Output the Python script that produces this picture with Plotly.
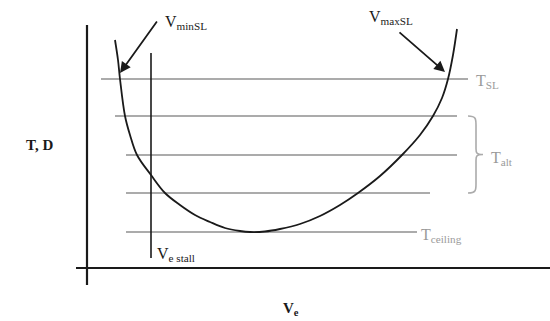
import plotly.graph_objects as go

# Drag curve D(V) (velocity units, thrust units)
curve_v = [2.8, 3.1, 3.3, 3.8, 4.3, 5.0, 6.4, 7.8, 9.3, 10.8, 12.3, 13.8, 15.3,
           16.3, 17.8, 19.3, 21.3, 23.3, 25.3, 27.1, 29.3, 31.5, 33.3, 34.6,
           35.5, 36.1, 36.6, 37.0]
curve_d = [22.8, 20.8, 18.9, 15.2, 13.3, 11.3, 9.3, 7.5, 6.3, 5.3, 4.6, 4.0, 3.7,
           3.6, 3.65, 3.9, 4.4, 5.2, 6.3, 7.5, 9.2, 11.3, 13.3, 15.2,
           17.0, 18.9, 21.3, 23.9]

# Available thrust levels (sea level, two altitudes, one lower altitude, ceiling)
thrust_levels = [18.9, 15.2, 11.3, 7.5, 3.6]
thrust_start = [1.4, 2.8, 3.9, 3.9, 3.9]
thrust_end = [38.1, 37.0, 37.0, 34.3, 33.0]

# Stall speed
v_stall = 6.4
stall_span = [1.0, 21.5]

# Axis extents
v_axis_span = [-1.1, 46.5]
t_axis_span = [-1.7, 24.3]

GRAY = "#ababab"
LABEL_GRAY = "#9a9a9a"
DARK = "#1a1a1a"
FONT = "Liberation Serif"

fig = go.Figure()

# Axes
fig.add_trace(go.Scatter(x=v_axis_span, y=[0, 0], mode="lines",
                         line=dict(color=DARK, width=2.2), hoverinfo="skip"))
fig.add_trace(go.Scatter(x=[0, 0], y=t_axis_span, mode="lines",
                         line=dict(color=DARK, width=2.2), hoverinfo="skip"))

# Thrust lines
for t, a, b in zip(thrust_levels, thrust_start, thrust_end):
    fig.add_trace(go.Scatter(x=[a, b], y=[t, t], mode="lines",
                             line=dict(color=GRAY, width=2), hoverinfo="skip"))

# Stall line
fig.add_trace(go.Scatter(x=[v_stall, v_stall], y=stall_span, mode="lines",
                         line=dict(color=DARK, width=1.6), hoverinfo="skip"))

# Drag curve
fig.add_trace(go.Scatter(x=curve_v, y=curve_d, mode="lines",
                         line=dict(color=DARK, width=1.8, shape="spline", smoothing=1.0),
                         hoverinfo="skip"))

# Brace grouping the altitude thrust lines
b_top, b_bot = thrust_levels[1], thrust_levels[3]
b_mid = (b_top + b_bot) / 2
bx0, bx1, bx2 = 38.1, 38.9, 39.6
brace = (
    f"M {bx0},{b_top} C {bx1},{b_top} {bx1},{b_top - 0.3} {bx1},{b_top - 0.9} "
    f"L {bx1},{b_mid + 0.6} C {bx1},{b_mid + 0.2} {bx1},{b_mid} {bx2},{b_mid} "
    f"C {bx1},{b_mid} {bx1},{b_mid - 0.2} {bx1},{b_mid - 0.6} "
    f"L {bx1},{b_bot + 0.9} C {bx1},{b_bot + 0.3} {bx1},{b_bot} {bx0},{b_bot}"
)
fig.add_shape(type="path", path=brace, xref="x", yref="y",
              line=dict(color=GRAY, width=1.6))

# Arrows to V_minSL and V_maxSL
fig.add_annotation(x=3.3, y=19.5, ax=7.1, ay=24.8, axref="x", ayref="y",
                   xref="x", yref="y", text="", showarrow=True,
                   arrowhead=2, arrowsize=1.2, arrowwidth=1.8, arrowcolor=DARK)
fig.add_annotation(x=35.8, y=19.6, ax=31.1, ay=23.7, axref="x", ayref="y",
                   xref="x", yref="y", text="", showarrow=True,
                   arrowhead=2, arrowsize=1.2, arrowwidth=1.8, arrowcolor=DARK)

def label(text, v, t, color=DARK, size=16, xanchor="left"):
    fig.add_annotation(x=v, y=t, text=text, showarrow=False, xanchor=xanchor,
                       yanchor="middle", font=dict(family=FONT, size=size, color=color))

label("V<sub>minSL</sub>", 7.6, 24.6)
label("V<sub>maxSL</sub>", 28.0, 25.1)
label("T<sub>SL</sub>", 38.7, 18.7, color=LABEL_GRAY)
label("T<sub>alt</sub>", 40.2, 11.0, color=LABEL_GRAY)
label("T<sub>ceiling</sub>", 33.2, 3.3, color=LABEL_GRAY)
label("V<sub>e stall</sub>", 6.8, 1.4)
label("<b>T, D</b>", -4.8, 12.3, size=15, xanchor="center")
label("<b>V<sub>e</sub></b>", 19.4, -4.1, size=15)

fig.update_layout(
    width=550, height=321,
    margin=dict(l=0, r=0, t=0, b=0),
    paper_bgcolor="white", plot_bgcolor="white",
    showlegend=False,
    xaxis=dict(range=[-8.7, 46.3], visible=False, fixedrange=True),
    yaxis=dict(range=[-5.3, 26.8], visible=False, fixedrange=True),
)

fig.write_html("out.html")
